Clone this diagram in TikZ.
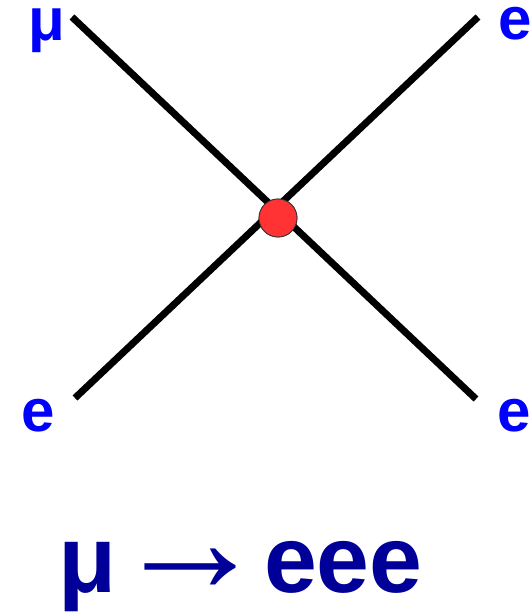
\documentclass[tikz,border=0pt]{standalone}
\usepackage{fontspec}
\setmainfont{Liberation Sans}
\newfontfamily\arrfont{Liberation Serif}
\definecolor{lblue}{RGB}{0,0,255}
\definecolor{dblue}{RGB}{0,0,153}
\definecolor{vred}{RGB}{255,51,51}
\begin{document}
\begin{tikzpicture}[x=1pt,y=-1pt,
  leg/.style={line width=7pt, black},
  vtx/.style={circle, fill=vred, draw=black!80, line width=0.8pt, minimum size=38pt, inner sep=0pt},
  lbl/.style={text=lblue, font=\fontsize{60}{72}\selectfont\bfseries, anchor=base, inner sep=0pt},
  eq/.style={text=dblue, font=\fontsize{95}{110}\selectfont\bfseries, anchor=base west, inner sep=0pt}]
\useasboundingbox (0,0) rectangle (530,614);
\coordinate (pmu) at (72,17);
\coordinate (pe1) at (478,17);
\coordinate (pe2) at (75,398);
\coordinate (pe3) at (476,399);
\node[vtx] (v) at (278,218) {};
\draw[leg] (pmu) -- (pe3);
\draw[leg] (pe1) -- (pe2);
\node[vtx] (v2) at (v) {};
\node[lbl] (lmu) at (47,40) {μ};
\node[lbl] (le1) at (515,39) {e};
\node[lbl] (le2) at (38,431) {e};
\node[lbl] (le3) at (514,431) {e};
\node[eq] (eqn) at (58,592) {μ\hspace{-29pt} {\arrfont\mdseries\scalebox{1.62}{→}}\hspace{-30pt} eee};
\end{tikzpicture}
\end{document}
